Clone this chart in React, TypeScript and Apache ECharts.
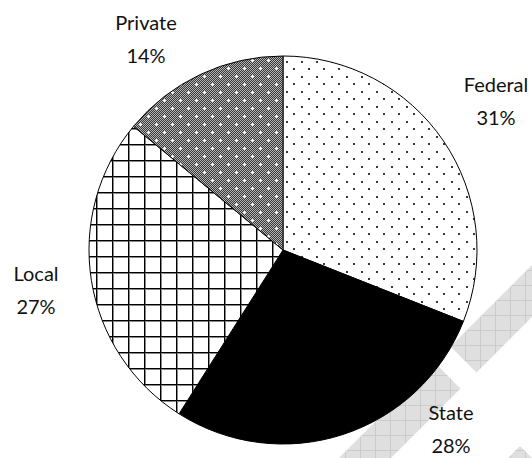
import React, { useEffect, useRef } from "react";
import * as echarts from "echarts";

// ---- data ----
const categories = ["Federal", "State", "Local", "Private"];
const shares = [31, 28, 27, 14];

// label anchor points (layout only)
const labelAnchors: number[][] = [
  [496, 100],
  [451, 428],
  [36, 289],
  [146, 38],
];

function makeCanvas(w: number, h: number, draw: (ctx: CanvasRenderingContext2D) => void) {
  const c = document.createElement("canvas");
  c.width = w;
  c.height = h;
  const ctx = c.getContext("2d") as CanvasRenderingContext2D;
  draw(ctx);
  return c;
}

function buildPatterns() {
  const federal = makeCanvas(15, 15, (ctx) => {
    ctx.fillStyle = "#ffffff";
    ctx.fillRect(0, 0, 15, 15);
    ctx.fillStyle = "#3a3a3a";
    ctx.fillRect(1, 1, 2, 2);
    ctx.fillRect(8, 8, 2, 2);
  });
  const local = makeCanvas(16, 16, (ctx) => {
    ctx.fillStyle = "#ffffff";
    ctx.fillRect(0, 0, 16, 16);
    ctx.fillStyle = "#8a8a8a";
    ctx.fillRect(0, 1, 16, 1);
    ctx.fillRect(1, 0, 1, 16);
    ctx.fillStyle = "#000000";
    ctx.fillRect(0, 0, 16, 1);
    ctx.fillRect(0, 0, 1, 16);
  });
  const priv = makeCanvas(16, 16, (ctx) => {
    for (let y = 0; y < 16; y++) {
      for (let x = 0; x < 16; x++) {
        ctx.fillStyle = (x + y) % 2 ? "#383838" : "#b4b4b4";
        ctx.fillRect(x, y, 1, 1);
      }
    }
    ctx.fillStyle = "#ffffff";
    const dots = [
      [4, 4],
      [12, 12],
    ];
    dots.forEach(([x, y]) => {
      ctx.fillRect(x - 1, y, 3, 1);
      ctx.fillRect(x, y - 1, 1, 3);
    });
  });
  const water = makeCanvas(15, 15, (ctx) => {
    ctx.fillStyle = "#dfdfdf";
    ctx.fillRect(0, 0, 15, 15);
    ctx.fillStyle = "#cbcbcb";
    ctx.fillRect(0, 0, 15, 1);
    ctx.fillRect(0, 0, 1, 15);
  });
  return { federal, local, priv, water };
}

export default function App() {
  const ref = useRef<HTMLDivElement>(null);

  useEffect(() => {
    if (!ref.current) return;
    const chart = echarts.init(ref.current, null, { renderer: "svg" });
    const p = buildPatterns();
    const pat = (c: HTMLCanvasElement) => ({
      image: c,
      repeat: "repeat",
      imageWidth: c.width,
      imageHeight: c.height,
    });
    const fills: any[] = [pat(p.federal), "#000000", pat(p.local), pat(p.priv)];

    const waterFill = { type: "pattern", ...pat(p.water) };

    chart.setOption({
      animation: false,
      backgroundColor: "#ffffff",
      graphic: [
        {
          type: "polygon",
          z: -10,
          silent: true,
          shape: { points: [[450.5, 346.5], [476.5, 372.5], [560, 289], [560, 237]] },
          style: { fill: waterFill as any },
        },
        {
          type: "polygon",
          z: -10,
          silent: true,
          shape: { points: [[434.5, 362.5], [460.5, 388.5], [369, 480], [317, 480]] },
          style: { fill: waterFill as any },
        },
        {
          type: "polygon",
          z: -10,
          silent: true,
          shape: { points: [[520, 446], [546, 472], [532, 486], [480, 486]] },
          style: { fill: waterFill as any },
        },
      ],
      series: [
        {
          type: "pie",
          center: [283, 250],
          radius: 194,
          startAngle: 90,
          clockwise: true,
          avoidLabelOverlap: false,
          silent: true,
          itemStyle: { borderColor: "#000000", borderWidth: 1 },
          label: {
            show: true,
            position: "outside",
            formatter: "{b}\n{d}%",
            fontFamily: "Lato",
            fontSize: 20,
            lineHeight: 33,
            color: "#111111",
            align: "center",
          },
          labelLine: { show: false },
          labelLayout: (params: any) => {
            const a = labelAnchors[params.dataIndex];
            return { x: a[0], y: a[1], align: "center", verticalAlign: "middle" };
          },
          data: categories.map((name, i) => ({
            name,
            value: shares[i],
            itemStyle: { color: fills[i] },
          })),
        },
      ],
    });
    return () => chart.dispose();
  }, []);

  return (
    <div
      ref={ref}
      style={{ position: "fixed", left: 0, top: 0, width: 532, height: 458 }}
    />
  );
}
